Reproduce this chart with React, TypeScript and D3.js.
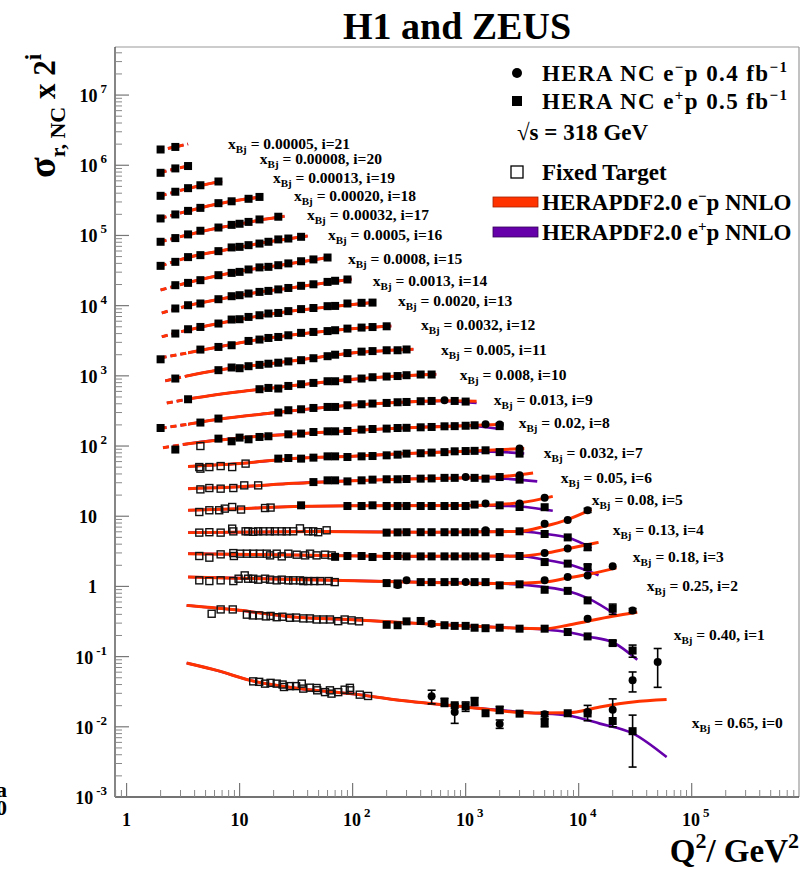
import React from "react";
import * as d3 from "d3";

const W = 805;
const H = 870;
const FONT = "'Liberation Serif', 'Times New Roman', serif";
const RED = "#ff3300";
const PURPLE = "#6600aa";

// axis domains
const xDomain = [0.79, 8.9e5];
const yDomain = [1e-3, 4.84e7];
const fitCutQ2 = 3.5;

// x_Bj values, index i (sigma multiplied by 2^i)
const xBj = ["0.65", "0.40", "0.25", "0.18", "0.13", "0.08", "0.05", "0.032", "0.02", "0.013", "0.008",
  "0.005", "0.0032", "0.0020", "0.0013", "0.0008", "0.0005", "0.00032", "0.00020", "0.00013", "0.00008", "0.00005"];

// label anchors in data units: [Q2, sigma_r]
const labelAnchor = [
  [100000, 0.0115], [69300, 0.1], [40100, 0.25], [30100, 0.324], [20000, 0.394], [13060, 0.527],
  [6950, 0.541], [4920, 0.615], [2950, 0.824], [1776, 0.877], [889, 1.0], [604, 1.13], [402, 1.28],
  [252, 1.41], [151, 1.36], [91, 1.40], [60.5, 1.54], [39.5, 1.49], [30.3, 1.38], [19.7, 1.25],
  [15.1, 1.167], [7.9, 0.955],
];

// HERAPDF2.0 e-p NNLO curves: [Q2, sigma_r]
const fitEm = [
  [[3.4, 0.081], [6.3, 0.0636], [12.4, 0.0459], [34, 0.035], [95, 0.0297], [260, 0.0239], [1000, 0.0192], [3950, 0.0157], [8000, 0.0158], [15400, 0.0192], [30300, 0.0225], [60000, 0.0244]],
  [[3.4, 0.268], [10, 0.228], [30, 0.183], [100, 0.168], [300, 0.152], [1000, 0.137], [3000, 0.127], [5000, 0.125], [8000, 0.14], [12000, 0.16], [20000, 0.188], [33000, 0.215]],
  [[3.5, 0.34], [30, 0.315], [300, 0.29], [2000, 0.275], [5000, 0.29], [8000, 0.33], [12000, 0.37], [21600, 0.46]],
  [[3.5, 0.366], [30, 0.35], [300, 0.335], [3000, 0.338], [5000, 0.37], [8000, 0.43], [15000, 0.53]],
  [[3.5, 0.365], [50, 0.378], [500, 0.37], [3000, 0.38], [5000, 0.45], [8000, 0.56], [13000, 0.78]],
  [[3.5, 0.38], [10, 0.40], [30, 0.43], [100, 0.44], [1000, 0.445], [2000, 0.46], [3000, 0.485], [5900, 0.60]],
  [[3.5, 0.386], [10, 0.41], [30, 0.46], [100, 0.50], [300, 0.53], [1000, 0.55], [2000, 0.57], [3950, 0.644]],
  [[3.5, 0.40], [10, 0.44], [30, 0.52], [100, 0.56], [300, 0.61], [1000, 0.66], [3300, 0.72]],
  [[2.1, 0.37], [3.5, 0.42], [10, 0.51], [30, 0.58], [100, 0.65], [300, 0.71], [1000, 0.76], [1950, 0.79]],
  [[2, 0.35], [3.5, 0.40], [6.5, 0.47], [20, 0.58], [60, 0.70], [200, 0.80], [600, 0.86], [1250, 0.85]],
  [[2.27, 0.40], [3.5, 0.455], [10, 0.58], [30, 0.71], [100, 0.87], [250, 0.97], [550, 1.03]],
  [[2.2, 0.414], [3.5, 0.49], [6.5, 0.59], [12, 0.67], [30, 0.80], [70, 0.97], [150, 1.09], [345, 1.17]],
  [[2, 0.44], [3.5, 0.52], [6.5, 0.63], [12, 0.76], [30, 0.94], [70, 1.09], [220, 1.25]],
  [[2.05, 0.44], [3.5, 0.55], [6.5, 0.68], [12, 0.82], [30, 1.03], [70, 1.20], [160, 1.37]],
  [[2.05, 0.48], [3.5, 0.61], [6.5, 0.75], [12, 0.90], [30, 1.11], [98, 1.46]],
  [[2, 0.51], [3.5, 0.65], [6.5, 0.82], [12, 0.99], [25, 1.18], [63, 1.50]],
  [[2, 0.56], [3.5, 0.74], [6.5, 0.91], [12, 1.10], [20, 1.27], [40, 1.50]],
  [[2, 0.62], [3.5, 0.78], [6.5, 0.98], [10, 1.11], [15, 1.26], [25, 1.43]],
  [[2, 0.67], [3.5, 0.85], [6.5, 1.08], [10, 1.22], [16, 1.36]],
  [[2, 0.70], [3.5, 0.89], [4.5, 0.98], [7, 1.14]],
  [[2, 0.75], [2.7, 0.85], [3.5, 0.93]],
  [[1.9, 0.78], [2.7, 0.87], [3.5, 0.96]],
];

// HERAPDF2.0 e+p NNLO: where it departs from e-p curve
const fitEpTail = [
  [[3950, 0.0157], [8000, 0.0145], [15400, 0.0111], [30300, 0.0080], [60000, 0.0037]],
  [[3000, 0.127], [5000, 0.122], [8000, 0.112], [12000, 0.097], [20000, 0.080], [33000, 0.045]],
  [[2000, 0.275], [5000, 0.245], [8000, 0.215], [12000, 0.17], [21600, 0.097]],
  [[3000, 0.338], [5000, 0.30], [8000, 0.26], [15000, 0.18]],
  [[3000, 0.378], [5000, 0.35], [8000, 0.31], [13000, 0.22]],
  [[1000, 0.445], [2000, 0.44], [3000, 0.43], [5900, 0.373]],
  [[1000, 0.55], [2000, 0.54], [4300, 0.49]],
  [[1000, 0.66], [2000, 0.645], [3300, 0.61]],
  [[1000, 0.76], [1950, 0.69]],
  [[600, 0.86], [1250, 0.80]],
  [], [], [], [], [], [], [], [], [], [], [], [],
];

// HERA NC e+p (filled squares): [Q2, sigma_r, error]
const epData = [
  [[650, 0.0225, 0.003], [800, 0.0203], [1000, 0.0196, 0.003], [1200, 0.0231, 0.003], [1500, 0.0156], [2000, 0.0175, 0.002], [3000, 0.0154], [5000, 0.0115, 0.0015], [8000, 0.0156], [12000, 0.0155], [20000, 0.0121], [30000, 0.00867, 0.006]],
  [[200, 0.142], [250, 0.14], [300, 0.159], [400, 0.161], [650, 0.14], [800, 0.137], [1000, 0.137], [1200, 0.129], [1500, 0.127], [2000, 0.129], [3000, 0.125], [5000, 0.125], [8000, 0.112], [12000, 0.097], [20000, 0.078, 0.006], [30000, 0.061, 0.012]],
  [[200, 0.279], [250, 0.276], [400, 0.288], [500, 0.288], [650, 0.288], [800, 0.29], [1200, 0.288], [1500, 0.288], [2000, 0.259], [3000, 0.268], [5000, 0.224], [8000, 0.216], [12000, 0.158], [20000, 0.12, 0.02]],
  [[70, 0.33], [90, 0.339], [120, 0.339], [150, 0.328], [200, 0.339], [250, 0.339], [300, 0.335], [400, 0.335], [500, 0.335], [650, 0.335], [800, 0.335], [1000, 0.335], [1200, 0.335], [1500, 0.335], [2000, 0.328], [3000, 0.339], [5000, 0.278], [8000, 0.264], [12000, 0.236, 0.02]],
  [[200, 0.365], [250, 0.368], [300, 0.37], [400, 0.37], [500, 0.37], [650, 0.37], [800, 0.37], [1000, 0.37], [1200, 0.37], [1500, 0.37], [2000, 0.37], [3000, 0.381], [5000, 0.349], [8000, 0.312], [12000, 0.228, 0.025]],
  [[35, 0.447], [90, 0.437], [120, 0.437], [150, 0.447], [200, 0.437], [250, 0.437], [300, 0.437], [400, 0.437], [500, 0.437], [650, 0.437], [800, 0.437], [1000, 0.437], [1200, 0.458], [2000, 0.447], [3000, 0.423], [5000, 0.42]],
  [[45, 0.479], [60, 0.507], [70, 0.507], [90, 0.49], [120, 0.507], [150, 0.519], [200, 0.525], [250, 0.525], [300, 0.53], [400, 0.536], [500, 0.54], [650, 0.55], [800, 0.55], [1200, 0.55], [1500, 0.536], [2000, 0.565], [3000, 0.519]],
  [[22, 0.517], [27, 0.527], [35, 0.517], [45, 0.534], [60, 0.557], [70, 0.557], [90, 0.545], [120, 0.557], [150, 0.563], [200, 0.576], [250, 0.589], [300, 0.609], [400, 0.617], [500, 0.63], [650, 0.64], [800, 0.657], [1000, 0.663], [1200, 0.667], [1500, 0.679], [2000, 0.64], [3000, 0.609]],
  [[2.7, 0.348], [6.5, 0.498], [8.5, 0.456], [10, 0.515], [12, 0.487], [15, 0.526], [18, 0.538], [27, 0.574], [35, 0.588], [45, 0.619], [60, 0.633], [70, 0.633], [90, 0.64], [120, 0.67], [150, 0.683], [200, 0.692], [250, 0.706], [300, 0.71], [400, 0.722], [500, 0.73], [650, 0.746], [800, 0.75], [1000, 0.76], [1200, 0.772], [2000, 0.75]],
  [[2, 0.353], [4.5, 0.422], [6.5, 0.481], [22, 0.586], [27, 0.632], [35, 0.652], [45, 0.681], [60, 0.704], [70, 0.704], [90, 0.744], [120, 0.769], [150, 0.787], [200, 0.803], [250, 0.821], [300, 0.829], [400, 0.849], [500, 0.857], [800, 0.857], [1000, 0.84]],
  [[3.5, 0.453], [15, 0.63], [18, 0.657], [22, 0.644], [27, 0.701], [35, 0.742], [45, 0.774], [60, 0.818], [70, 0.818], [90, 0.874], [120, 0.894], [150, 0.933], [200, 0.955], [250, 0.97], [300, 0.997], [400, 1.02], [500, 1.02]],
  [[2.7, 0.447], [6.5, 0.588], [8.5, 0.642], [10, 0.627], [12, 0.67], [15, 0.70], [18, 0.727], [22, 0.751], [27, 0.784], [35, 0.816], [45, 0.87], [60, 0.93], [70, 0.977], [90, 1.03], [120, 1.08], [150, 1.10], [200, 1.13], [250, 1.13], [300, 1.16]],
  [[2, 0.42], [4.5, 0.578], [6.5, 0.63], [8.5, 0.666], [12, 0.767], [15, 0.803], [18, 0.846], [22, 0.874], [27, 0.924], [35, 1.0], [45, 1.03], [60, 1.06], [70, 1.09], [90, 1.15], [120, 1.19], [150, 1.21], [200, 1.24]],
  [[2.7, 0.489], [3.5, 0.563], [4.5, 0.607], [6.5, 0.679], [8.5, 0.774], [10, 0.782], [12, 0.843], [15, 0.891], [18, 0.943], [22, 0.961], [27, 1.02], [35, 1.09], [45, 1.13], [60, 1.20], [70, 1.21], [90, 1.31], [120, 1.34], [150, 1.35]],
  [[2.7, 0.556], [3.5, 0.619], [4.5, 0.655], [6.5, 0.754], [8.5, 0.832], [10, 0.86], [12, 0.909], [15, 0.958], [18, 0.99], [22, 1.04], [27, 1.09], [35, 1.17], [45, 1.23], [60, 1.33], [70, 1.38], [90, 1.44]],
  [[2.7, 0.597], [3.5, 0.644], [4.5, 0.704], [6.5, 0.829], [8.5, 0.894], [10, 0.924], [12, 1.0], [15, 1.07], [18, 1.09], [22, 1.15], [27, 1.22], [35, 1.31], [45, 1.39], [60, 1.48]],
  [[2, 0.563], [2.7, 0.642], [3.5, 0.75], [4.5, 0.80], [6.5, 0.912], [8.5, 1.03], [10, 1.05], [12, 1.11], [15, 1.17], [18, 1.24], [22, 1.34], [27, 1.38], [35, 1.46]],
  [[2, 0.62], [2.7, 0.70], [3.5, 0.79], [4.5, 0.89], [6.5, 0.99], [8.5, 1.08], [10, 1.12], [12, 1.19], [15, 1.29], [22, 1.41]],
  [[2, 0.666], [2.7, 0.76], [3.5, 0.854], [4.5, 0.943], [6.5, 1.10], [8.5, 1.17], [12, 1.27], [15, 1.35]],
  [[2, 0.70], [2.7, 0.80], [3.5, 0.90], [4.5, 0.99], [6.5, 1.12]],
  [[2, 0.745], [2.7, 0.86], [3.5, 0.93]],
  [[2, 0.80], [2.7, 0.87]],
];

// HERA NC e-p (filled circles): [Q2, sigma_r, error]
const emData = [
  [[500, 0.0272, 0.006], [800, 0.0162, 0.005], [2000, 0.011, 0.0015], [5000, 0.0151, 0.0012], [12000, 0.0162, 0.004], [20000, 0.0175, 0.0075], [30000, 0.0459, 0.0145], [50000, 0.0835, 0.047]],
  [[500, 0.147, 0.012], [12000, 0.173], [30000, 0.227, 0.015]],
  [[250, 0.262, 0.02], [300, 0.305], [1000, 0.288], [5000, 0.305], [8000, 0.34], [12000, 0.359], [20000, 0.483]],
  [[5000, 0.373], [8000, 0.432]],
  [[1500, 0.394], [5000, 0.49], [8000, 0.552], [12000, 0.759, 0.05]],
  [[1500, 0.473], [3000, 0.473], [5000, 0.572]],
  [[1000, 0.565], [3000, 0.597]],
  [[3000, 0.718]],
  [[1500, 0.797], [2000, 0.79]],
  [[650, 0.877]],
  [], [], [], [], [], [], [], [], [], [], [], [],
];

// Fixed target (open squares): [Q2, sigma_r]
const ftData = [
  [[13.2, 0.0444], [14.9, 0.0437], [16.8, 0.0412], [18.8, 0.0423], [21.3, 0.0412], [24, 0.040], [24.7, 0.0369], [27.9, 0.038], [31.6, 0.038], [35.5, 0.0412], [36.6, 0.035], [41.9, 0.0361], [48, 0.0357], [48.6, 0.0331], [57, 0.0312], [63, 0.0331], [65, 0.0297], [74.6, 0.0312], [85, 0.0338], [94.6, 0.0359], [95, 0.0331], [115.7, 0.0287], [137, 0.0275]],
  [[5.66, 0.204], [6.8, 0.235], [8.7, 0.235], [11.6, 0.198], [13.1, 0.193], [14.9, 0.193], [17.1, 0.187], [18.8, 0.19], [21.3, 0.182], [23.9, 0.185], [27.9, 0.179], [31.6, 0.18], [36.6, 0.175], [41.9, 0.175], [48, 0.169], [55, 0.169], [63, 0.169], [74.6, 0.16], [85, 0.169], [98, 0.164], [114, 0.159]],
  [[4.4, 0.305], [5.4, 0.298], [6.8, 0.305], [8.8, 0.298], [9.8, 0.322], [11.1, 0.359], [11.9, 0.322], [13.2, 0.322], [14.6, 0.312], [16.8, 0.322], [18.6, 0.312], [21.3, 0.305], [23.6, 0.312], [27, 0.305], [29.8, 0.305], [34.2, 0.305], [36.6, 0.298], [40.5, 0.298], [45.8, 0.298], [51.8, 0.298], [61.4, 0.298], [69.4, 0.288]],
  [[4.4, 0.339], [5.4, 0.321], [6.8, 0.358], [8.8, 0.373], [8.9, 0.339], [10.1, 0.366], [11.6, 0.366], [13.2, 0.366], [15.1, 0.366], [17.4, 0.366], [18.6, 0.346], [21.3, 0.366], [23.6, 0.335], [27, 0.366], [32, 0.354], [38, 0.346], [42, 0.366], [48, 0.346], [57, 0.354], [65.3, 0.346]],
  [[4.4, 0.365], [5.4, 0.37], [6.8, 0.365], [8.6, 0.416], [8.8, 0.38], [11.3, 0.381], [11.9, 0.381], [13.2, 0.375], [14.6, 0.381], [16.2, 0.381], [18.5, 0.381], [20.5, 0.381], [23.6, 0.381], [26.1, 0.381], [29.8, 0.381], [34.2, 0.42], [40.5, 0.381], [44.8, 0.381], [49.6, 0.37], [58.9, 0.394]],
  [[4.4, 0.359], [5.4, 0.38], [6.6, 0.38], [7.4, 0.401], [8.6, 0.423], [10.3, 0.389], [16.8, 0.409], [18.8, 0.415]],
  [[4.5, 0.377], [5.4, 0.394], [6.8, 0.386], [8.8, 0.394], [11, 0.43], [14.6, 0.43]],
  [[4.4, 0.392], [4.5, 0.372], [5.4, 0.392], [6.8, 0.405], [8.6, 0.392], [11.3, 0.439]],
  [[4.5, 0.391]],
  [], [], [], [], [], [], [], [], [], [], [], [], [],
];

const yMajorExp = [-3, -2, -1, 0, 1, 2, 3, 4, 5, 6, 7];
const xMajorExp = [0, 1, 2, 3, 4, 5];

function Pow10({ n, anchor, x, y, size }) {
  if (n === 0) return <text x={x} y={y} textAnchor={anchor} fontSize={size}>1</text>;
  if (n === 1) return <text x={x} y={y} textAnchor={anchor} fontSize={size}>10</text>;
  return (
    <text x={x} y={y} textAnchor={anchor} fontSize={size}>
      10<tspan dx={3} dy={-9} fontSize={size * 0.72}>{n}</tspan>
    </text>
  );
}

export default function App() {
  const x = d3.scaleLog().domain(xDomain).range([115, 799]);
  const y = d3.scaleLog().domain(yDomain).range([797, 47]);
  const [x0, x1] = x.range();
  const [y0, y1] = y.range();
  const xCut = x(fitCutQ2);

  const mkLine = (i: number) =>
    d3.line<number[]>().x((d) => x(d[0])).y((d) => y(d[1] * Math.pow(2, i))).curve(d3.curveMonotoneX);

  const epCurve = (i: number) => {
    const tail = fitEpTail[i];
    if (!tail.length) return fitEm[i];
    return fitEm[i].filter((d) => d[0] < tail[0][0]).concat(tail);
  };

  const yMinor: number[] = [];
  for (let n = -3; n <= 7; n++) for (let k = 2; k <= 9; k++) {
    const v = k * Math.pow(10, n);
    if (v > yDomain[0] && v < yDomain[1]) yMinor.push(v);
  }
  const xMinor: number[] = [];
  for (let n = -1; n <= 5; n++) for (let k = 2; k <= 9; k++) {
    const v = k * Math.pow(10, n);
    if (v > xDomain[0] && v < xDomain[1]) xMinor.push(v);
  }

  const series = d3.range(xBj.length);

  const errBar = (i: number, d: number[], key: string) => {
    if (d.length < 3) return null;
    const f = Math.pow(2, i);
    const lo = Math.max(d[1] - d[2], 1e-4);
    const hi = d[1] + d[2];
    const cx = x(d[0]);
    const ya = y(lo * f), yb = y(hi * f);
    return (
      <g key={key} stroke="#000" strokeWidth={1.6}>
        <line x1={cx} x2={cx} y1={ya} y2={yb} />
        <line x1={cx - 4} x2={cx + 4} y1={ya} y2={ya} />
        <line x1={cx - 4} x2={cx + 4} y1={yb} y2={yb} />
      </g>
    );
  };

  const supDy = 9;
  return (
    <svg width={W} height={H} style={{ position: "absolute", left: 0, top: 0, background: "#fff" }}
      fontFamily={FONT} fontWeight="bold">
      <defs>
        <clipPath id="dash"><rect x={x0} y={y1} width={xCut - x0} height={y0 - y1} /></clipPath>
        <clipPath id="solid"><rect x={xCut} y={y1} width={x1 - xCut} height={y0 - y1} /></clipPath>
      </defs>
      <rect x={0} y={0} width={W} height={H} fill="#fff" />

      {/* title */}
      <text x={457} y={39} textAnchor="middle" fontSize={38}>H1 and ZEUS</text>

      {/* frame */}
      <line x1={x0} x2={x1} y1={y1} y2={y1} stroke="#999" strokeWidth={1.2} />
      <line x1={x1} x2={x1} y1={y1} y2={y0} stroke="#999" strokeWidth={1.2} />
      <line x1={x0} x2={x0} y1={y1} y2={y0} stroke="#444" strokeWidth={1.3} />
      <line x1={x0} x2={x1} y1={y0} y2={y0} stroke="#444" strokeWidth={1.3} />

      {/* y ticks */}
      {yMajorExp.map((n) => (
        <line key={"ym" + n} x1={x0} x2={x0 + 14} y1={y(Math.pow(10, n))} y2={y(Math.pow(10, n))} stroke="#777" strokeWidth={1.2} />
      ))}
      {yMinor.map((v, k) => (
        <line key={"yn" + k} x1={x0} x2={x0 + 7} y1={y(v)} y2={y(v)} stroke="#888" strokeWidth={1} />
      ))}
      {yMajorExp.map((n) => (
        <Pow10 key={"yl" + n} n={n} anchor="end" x={n === 0 || n === 1 ? 97 : 107} y={y(Math.pow(10, n)) + 7} size={18} />
      ))}

      {/* x ticks */}
      {xMajorExp.map((n) => (
        <line key={"xm" + n} x1={x(Math.pow(10, n))} x2={x(Math.pow(10, n))} y1={y0} y2={y0 - 14} stroke="#777" strokeWidth={1.2} />
      ))}
      {xMinor.map((v, k) => (
        <line key={"xn" + k} x1={x(v)} x2={x(v)} y1={y0} y2={y0 - 7} stroke="#888" strokeWidth={1} />
      ))}
      {xMajorExp.map((n) => (
        <Pow10 key={"xl" + n} n={n} anchor="middle" x={x(Math.pow(10, n)) + (n > 1 ? 4 : 0)} y={826} size={18} />
      ))}

      {/* axis titles */}
      <text transform="translate(55,178) rotate(-90)" fontSize={31}>
        <tspan fontSize={38}>σ</tspan>
        <tspan dy={10} fontSize={22}>r, NC</tspan>
        <tspan dy={-10} fontSize={31}> x 2</tspan>
        <tspan dy={-14} fontSize={23}>i</tspan>
      </text>
      <text x={799} y={862} textAnchor="end" fontSize={33}>
        Q<tspan dy={-14} fontSize={22}>2</tspan>
        <tspan dy={14}>/ GeV</tspan>
        <tspan dy={-14} fontSize={22}>2</tspan>
      </text>

      {/* cut-off marks at the left edge */}
      <text x={-4} y={797} fontSize={22}>a</text>
      <text x={-4} y={815} fontSize={22}>0</text>

      {/* e+p fits */}
      {series.map((i) => (
        <g key={"pp" + i} fill="none" stroke={PURPLE} strokeWidth={2.6}>
          <path d={mkLine(i)(epCurve(i)) || ""} clipPath="url(#solid)" />
          <path d={mkLine(i)(epCurve(i)) || ""} clipPath="url(#dash)" strokeDasharray="6 4" />
        </g>
      ))}
      {/* e-p fits */}
      {series.map((i) => (
        <g key={"pr" + i} fill="none" stroke={RED} strokeWidth={3}>
          <path d={mkLine(i)(fitEm[i]) || ""} clipPath="url(#solid)" />
          <path d={mkLine(i)(fitEm[i]) || ""} clipPath="url(#dash)" strokeDasharray="6 4" />
        </g>
      ))}

      {/* data */}
      {series.map((i) => {
        const f = Math.pow(2, i);
        return (
          <g key={"d" + i}>
            {ftData[i].map((d, k) => (
              <rect key={"f" + k} x={x(d[0]) - 3.5} y={y(d[1] * f) - 3.5} width={7} height={7}
                fill="none" stroke="#111" strokeWidth={1.4} />
            ))}
            {epData[i].map((d, k) => errBar(i, d, "pe" + k))}
            {emData[i].map((d, k) => errBar(i, d, "me" + k))}
            {epData[i].map((d, k) => (
              <rect key={"p" + k} x={x(d[0]) - 4} y={y(d[1] * f) - 4} width={8} height={8} fill="#000" />
            ))}
            {emData[i].map((d, k) => (
              <circle key={"m" + k} cx={x(d[0])} cy={y(d[1] * f)} r={4} fill="#000" />
            ))}
          </g>
        );
      })}

      {/* x_Bj labels */}
      {series.map((i) => {
        const a = labelAnchor[i];
        return (
          <text key={"lb" + i} x={x(a[0])} y={y(a[1] * Math.pow(2, i)) + 5} fontSize={15.5}>
            x<tspan dy={4} fontSize={11}>Bj</tspan>
            <tspan dy={-4}>{" = " + xBj[i] + ", i=" + i}</tspan>
          </text>
        );
      })}

      {/* legend */}
      <g fontSize={23}>
        <circle cx={517} cy={73} r={5} fill="#000" />
        <text x={542} y={81} textLength={245} lengthAdjust="spacing">HERA NC e<tspan dy={-supDy} fontSize={15}>−</tspan><tspan dy={supDy}>p 0.4 fb</tspan><tspan dy={-supDy} fontSize={15}>−1</tspan></text>
        <rect x={512} y={96} width={10} height={10} fill="#000" />
        <text x={542} y={109} textLength={245} lengthAdjust="spacing">HERA NC e<tspan dy={-supDy} fontSize={15}>+</tspan><tspan dy={supDy}>p 0.5 fb</tspan><tspan dy={-supDy} fontSize={15}>−1</tspan></text>
        <text x={517} y={140}>√s = 318 GeV</text>
        <rect x={511} y={166} width={12} height={12} fill="none" stroke="#000" strokeWidth={1.3} />
        <text x={542} y={180}>Fixed Target</text>
        <rect x={493} y={197} width={45} height={10} fill={RED} stroke="#a02000" strokeWidth={0.8} />
        <text x={542} y={210}>HERAPDF2.0 e<tspan dy={-supDy} fontSize={15}>−</tspan><tspan dy={supDy}>p NNLO</tspan></text>
        <rect x={493} y={227} width={45} height={10} fill={PURPLE} stroke="#330055" strokeWidth={0.8} />
        <text x={542} y={240}>HERAPDF2.0 e<tspan dy={-supDy} fontSize={15}>+</tspan><tspan dy={supDy}>p NNLO</tspan></text>
      </g>
    </svg>
  );
}
